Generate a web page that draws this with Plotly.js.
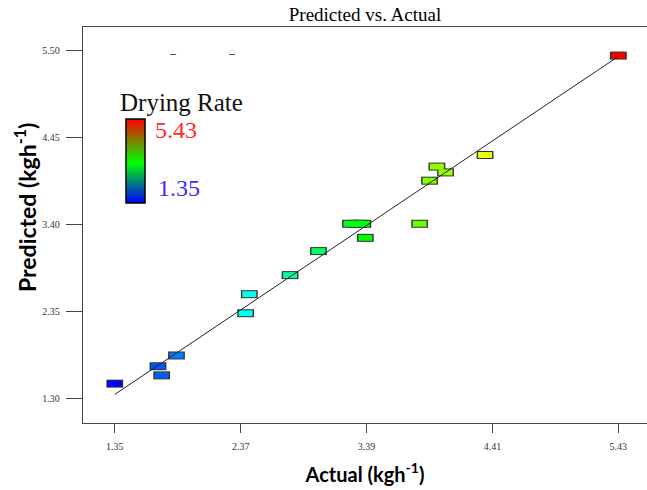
<!DOCTYPE html>
<html>
<head>
<meta charset="utf-8">
<script src="https://cdn.plot.ly/plotly-3.0.1.min.js"></script>
<style>html,body{margin:0;padding:0;background:#fff;}#chart{width:647px;height:490px;}</style>
</head>
<body>
<div id="chart"></div>
<script>
// Data
const actual    = [1.35, 1.70, 1.73, 1.85, 2.41, 2.44, 2.77, 3.00, 3.26, 3.32, 3.36, 3.38, 3.82, 3.90, 3.96, 4.03, 4.35, 5.43];
const predicted = [1.48, 1.69, 1.58, 1.82, 2.33, 2.56, 2.79, 3.08, 3.41, 3.41, 3.41, 3.24, 3.41, 3.93, 4.10, 4.03, 4.24, 5.44];
const rateRange = [1.35, 5.43];
const fitLine   = [1.35, 5.43];
const xTicks = [1.35, 2.37, 3.39, 4.41, 5.43];
const yTicks = [1.30, 2.35, 3.40, 4.45, 5.50];

const pointScale = [[0,'rgb(0,0,255)'],[0.25,'rgb(0,255,255)'],[0.5,'rgb(0,255,0)'],[0.75,'rgb(255,255,0)'],[1,'rgb(255,0,0)']];
const legendScale = [[0,'rgb(0,0,255)'],[0.48,'rgb(0,255,0)'],[1,'rgb(255,0,0)']];

const W = 647, H = 490, L = 83, R = 0, T = 27, B = 67;
const pw = W - L - R, ph = H - T - B;
const px = x => (x - L) / pw;
const py = y => (H - B - y) / ph;

const traces = [
  { // marker borders
    x: actual, y: predicted, mode: 'markers', type: 'scatter', hoverinfo: 'skip',
    marker: { symbol: 'line-ew', size: 12, line: { width: 8, color: '#333' } },
    showlegend: false
  },
  { // marker fills
    x: actual, y: predicted, mode: 'markers', type: 'scatter',
    marker: { symbol: 'line-ew', size: 10,
      line: { width: 6, color: actual, colorscale: pointScale, cmin: rateRange[0], cmax: rateRange[1] } },
    showlegend: false
  },
  { // fit line
    x: fitLine, y: fitLine, mode: 'lines', type: 'scatter',
    line: { color: '#222', width: 1 }, hoverinfo: 'skip', showlegend: false
  },
  { // colour legend
    x: [actual[0]], y: [predicted[0]], mode: 'markers', type: 'scatter', hoverinfo: 'skip',
    marker: { color: rateRange, colorscale: legendScale, cmin: rateRange[0], cmax: rateRange[1],
      opacity: 0, size: 1, showscale: true,
      colorbar: { x: px(126), xanchor: 'left', xpad: 0, y: py(160.5), yanchor: 'middle', ypad: 0,
        thickness: 19, lenmode: 'pixels', len: 84, outlinewidth: 1.5, outlinecolor: '#000',
        showticklabels: false, ticks: '' } },
    showlegend: false
  }
];

const tickFont = { family: 'Liberation Serif', size: 10, color: '#333' };
const layout = {
  width: W, height: H,
  margin: { l: L, r: R, t: T, b: B },
  paper_bgcolor: '#fff', plot_bgcolor: '#fff',
  title: { text: 'Predicted vs. Actual', font: { family: 'Liberation Serif', size: 19, color: '#000' },
    x: 0.5, xref: 'paper', xanchor: 'center', y: 1 - 14 / H, yanchor: 'middle' },
  xaxis: {
    range: [1.0926, 5.662], tickvals: xTicks, tickformat: '.2f',
    showgrid: false, zeroline: false, showline: true, mirror: true, linecolor: '#444', linewidth: 1.3,
    ticks: 'outside', ticklen: 9, tickwidth: 1.3, tickcolor: '#444', tickfont: tickFont,
    ticklabelstandoff: 5,
    title: { text: 'Actual (kgh<sup>-1</sup>)', font: { family: 'Lato', size: 20, color: '#000', weight: 'bold' }, standoff: 16 }
  },
  yaxis: {
    range: [1.005, 5.785], tickvals: yTicks, tickformat: '.2f',
    showgrid: false, zeroline: false, showline: true, mirror: false, linecolor: '#444', linewidth: 1.3,
    ticks: 'outside', ticklen: 16, tickwidth: 1.3, tickcolor: '#444', tickfont: tickFont,
    ticklabelstandoff: 4
  },
  annotations: [
    { text: 'Predicted (kgh<sup>-1</sup>)', xref: 'paper', yref: 'paper', x: px(25), y: py(208),
      xanchor: 'center', yanchor: 'middle', textangle: -90, showarrow: false,
      font: { family: 'Lato', size: 23, color: '#000', weight: 'bold' } },
    { text: 'Drying Rate', xref: 'paper', yref: 'paper', x: px(118), y: py(102), xanchor: 'left', yanchor: 'middle',
      showarrow: false, font: { family: 'Liberation Serif', size: 25, color: '#111' } },
    { text: '5.43', xref: 'paper', yref: 'paper', x: px(153), y: py(129.5), xanchor: 'left', yanchor: 'middle',
      showarrow: false, font: { family: 'Liberation Serif', size: 24, color: '#ff2a2a' } },
    { text: '1.35', xref: 'paper', yref: 'paper', x: px(155.5), y: py(188.4), xanchor: 'left', yanchor: 'middle',
      showarrow: false, font: { family: 'Liberation Serif', size: 24, color: '#3c2cff' } },
    { text: '–', xref: 'paper', yref: 'paper', x: px(172.8), y: py(52.7), xanchor: 'center', yanchor: 'middle',
      showarrow: false, font: { family: 'Liberation Serif', size: 12, color: '#000' } },
    { text: '–', xref: 'paper', yref: 'paper', x: px(232.2), y: py(52.7), xanchor: 'center', yanchor: 'middle',
      showarrow: false, font: { family: 'Liberation Serif', size: 12, color: '#000' } }
  ]
};

Plotly.newPlot('chart', traces, layout, { displayModeBar: false, staticPlot: true });
</script>
</body>
</html>
